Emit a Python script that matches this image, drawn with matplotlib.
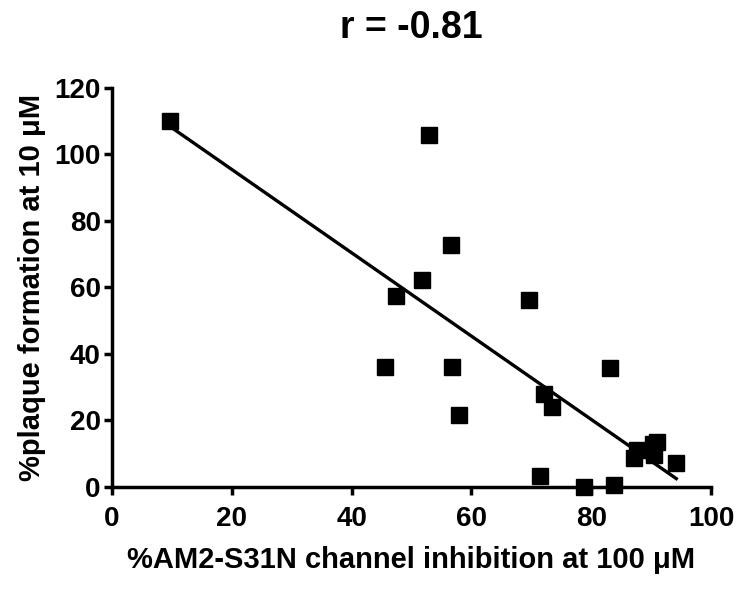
import numpy as np
import matplotlib
matplotlib.use('Agg')
import matplotlib.pyplot as plt

plt.rcParams['font.family'] = ['Liberation Sans', 'DejaVu Sans']
plt.rcParams['font.weight'] = 'bold'

# % AM2-S31N channel inhibition at 100 uM
inhibition = [9.7, 52.9, 56.6, 51.8, 47.4, 69.6, 45.6, 56.7, 83.1, 72.1, 73.4,
              57.9, 71.4, 78.8, 83.8, 87.1, 87.6, 90.3, 91.0, 90.5, 94.2]
# % plaque formation at 10 uM
plaque = [110.2, 106.0, 72.8, 62.2, 57.3, 56.2, 36.0, 36.0, 35.8, 27.9, 24.0,
          21.7, 3.3, 0.0, 0.6, 8.6, 11.0, 13.0, 13.6, 9.6, 7.2]

x = np.array(inhibition)
y = np.array(plaque)
slope, icpt = np.polyfit(x, y, 1)
xf = np.array([x.min(), x.max()])

fig = plt.figure(figsize=(7.45, 5.89), dpi=100)
ax = fig.add_axes([0.1503, 0.1732, 0.8041, 0.6774])

ax.plot(xf, slope*xf + icpt, '-', color='black', lw=2.4, zorder=2)
ax.plot(x, y, 's', color='black', ms=11, clip_on=False, zorder=3)

ax.set_xlim(0, 100)
ax.set_ylim(0, 120)
ax.set_xticks(np.arange(0, 101, 20))
ax.set_yticks(np.arange(0, 121, 20))
for s in ['top', 'right']:
    ax.spines[s].set_visible(False)
for s in ['left', 'bottom']:
    ax.spines[s].set_linewidth(2.5)
ax.tick_params(direction='out', length=6, width=2.5, labelsize=20)
ax.tick_params(axis='x', pad=8)
ax.tick_params(axis='y', pad=2)
for lab in ax.get_xticklabels() + ax.get_yticklabels():
    lab.set_fontweight('bold')

ax.set_xlabel('%AM2-S31N channel inhibition at 100 μM', fontsize=21, fontweight='bold', labelpad=10)
ax.set_ylabel('%plaque formation at 10 μM', fontsize=21, fontweight='bold', labelpad=6)
ax.set_title('r = -0.81', fontsize=27, fontweight='bold', pad=36)

fig.savefig('out.png', dpi=100)
